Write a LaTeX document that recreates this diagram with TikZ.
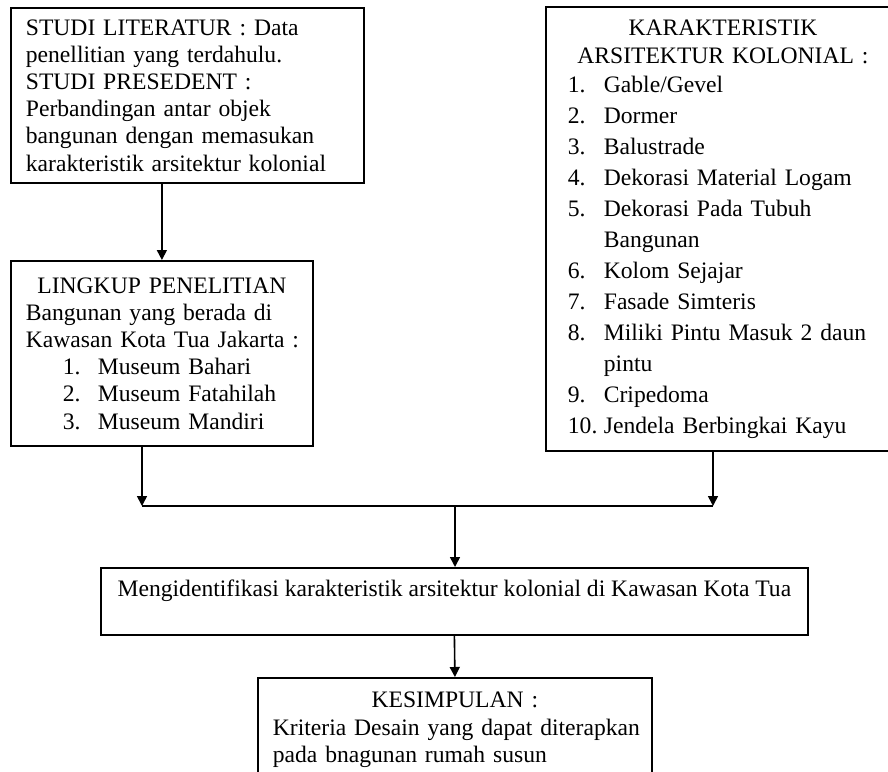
\documentclass[tikz,border=0pt]{standalone}
\usepackage{fontspec}
\setmainfont{Liberation Serif}
\usetikzlibrary{arrows.meta}

\tikzset{
  kotak/.style={draw, line width=0.9pt, anchor=north west, inner xsep=7.5pt,
    inner ysep=0pt, align=left, font=\fontsize{11.8}{13.6}\selectfont},
  panah/.style={-{Triangle[width=5pt,length=5pt]}, line width=0.8pt},
  garis/.style={line width=0.8pt},
}

\begin{document}
\begin{tikzpicture}[x=0.5pt,y=-0.5pt]
      \useasboundingbox (0,0) rectangle (888,771);

      \node[kotak, text width=161.5pt, minimum height=87.5pt] (studi) at (10,7)
        {\mbox{STUDI LITERATUR : Data}\\
         \mbox{penellitian yang terdahulu.}\\
         \mbox{STUDI PRESEDENT :}\\
         \mbox{Perbandingan antar objek}\\
         \mbox{bangunan dengan memasukan}\\
         \mbox{karakteristik arsitektur kolonial}};

      \node[kotak, text width=136pt, minimum height=92.5pt] (lingkup) at (10,260)
        {\makebox[136pt]{LINGKUP PENELITIAN}\\
         \mbox{Bangunan yang berada di}\\
         \mbox{Kawasan Kota Tua Jakarta :}\\
         \hspace*{18.5pt}\makebox[17.5pt][l]{1.}Museum Bahari\\
         \hspace*{18.5pt}\makebox[17.5pt][l]{2.}Museum Fatahilah\\
         \hspace*{18.5pt}\makebox[17.5pt][l]{3.}Museum Mandiri};

      \node[kotak, inner xsep=9.5pt, text width=158pt, minimum height=222pt,
        font=\fontsize{11.8}{15.5}\selectfont] (karakter) at (545,6)
        {\makebox[158pt]{KARAKTERISTIK}\\[-1.5pt]
         \makebox[158pt]{ARSITEKTUR KOLONIAL :}\\[-1pt]
         \hspace*{1.5pt}\makebox[18pt][l]{1.}Gable/Gevel\\
         \hspace*{1.5pt}\makebox[18pt][l]{2.}Dormer\\
         \hspace*{1.5pt}\makebox[18pt][l]{3.}Balustrade\\
         \hspace*{1.5pt}\makebox[18pt][l]{4.}Dekorasi Material Logam\\
         \hspace*{1.5pt}\makebox[18pt][l]{5.}\makebox[140pt][s]{Dekorasi Pada Tubuh}\\
         \hspace*{19.5pt}Bangunan\\
         \hspace*{1.5pt}\makebox[18pt][l]{6.}Kolom Sejajar\\
         \hspace*{1.5pt}\makebox[18pt][l]{7.}Fasade Simteris\\
         \hspace*{1.5pt}\makebox[18pt][l]{8.}\makebox[140pt][s]{Miliki Pintu Masuk 2 daun}\\
         \hspace*{19.5pt}pintu\\
         \hspace*{1.5pt}\makebox[18pt][l]{9.}Cripedoma\\
         \hspace*{1.5pt}\makebox[18pt][l]{10.}Jendela Berbingkai Kayu};

      \node[kotak, align=center, inner xsep=0pt, minimum width=353.5pt,
        minimum height=33.5pt] (identifikasi) at (100,567)
        {Mengidentifikasi karakteristik arsitektur kolonial di Kawasan Kota Tua\\ ~};

      \node[kotak, text width=182pt, minimum height=52pt] (kesimpulan) at (257,677)
        {\makebox[182pt]{KESIMPULAN :}\\
         \mbox{Kriteria Desain yang dapat diterapkan}\\
         \mbox{pada bnagunan rumah susun}};

      \coordinate (kiri) at (142,506);
      \coordinate (kanan) at (713,506);
      \coordinate (tengah) at (455,506);

      \draw[panah] (studi.south -| lingkup.north) -- (lingkup.north);
      \draw[panah] (lingkup.south -| kiri) -- (kiri);
      \draw[panah] (karakter.south -| kanan) -- (kanan);
      \draw[garis] (kiri) -- (kanan);
      \draw[panah] (tengah) -- (tengah |- identifikasi.north);
      \draw[panah] (identifikasi.south) -- (kesimpulan.north);
    \end{tikzpicture}
\end{document}
